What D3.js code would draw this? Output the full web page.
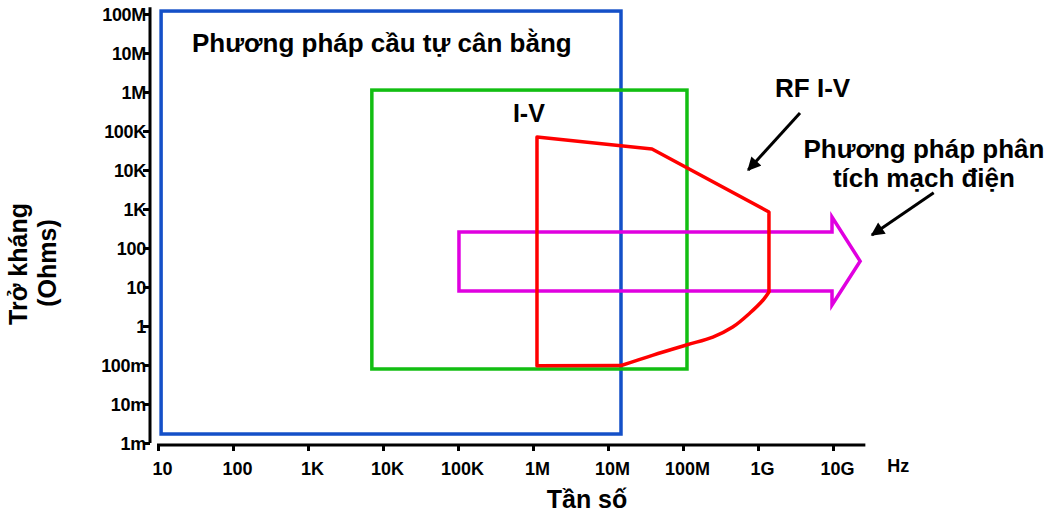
<!DOCTYPE html>
<html>
<head>
<meta charset="utf-8">
<script src="https://cdn.jsdelivr.net/npm/d3@7"></script>
<style>
  html, body { margin: 0; padding: 0; background: #fff; }
  svg { display: block; }
  text { font-family: "Liberation Sans", Arial, sans-serif; font-weight: bold; fill: #000; }
</style>
</head>
<body>
<svg id="chart" width="1049" height="515"></svg>
<script>
// ---- data ----
const freqTicks  = [1e1, 1e2, 1e3, 1e4, 1e5, 1e6, 1e7, 1e8, 1e9, 1e10];
const freqLabels = ["10", "100", "1K", "10K", "100K", "1M", "10M", "100M", "1G", "10G"];
const impTicks   = [1e-3, 1e-2, 1e-1, 1, 1e1, 1e2, 1e3, 1e4, 1e5, 1e6, 1e7, 1e8];
const impLabels  = ["1m", "10m", "100m", "1", "10", "100", "1K", "10K", "100K", "1M", "10M", "100M"];
const freqAxisExtent = [10, 2.7e10];
const impAxisExtent  = [1e-3, 1.5e8];

// auto-balancing bridge region
const bridgeFreq = [11, 1.49e7];
const bridgeImp  = [1.7e-3, 1.19e8];
// I-V region
const ivFreq = [7.1e3, 1.13e8];
const ivImp  = [0.079, 1.12e6];
// RF I-V region: straight edges and curved lower edge
const rfivEdges = [[1.5e7, 0.097], [1.13e6, 0.095], [1.13e6, 7.0e4], [3.86e7, 3.45e4], [1.4e9, 838], [1.4e9, 7.45]];
const rfivCurve = [[1.4e9, 7.45], [1.17e9, 4.64], [7.8e8, 2.15], [4.6e8, 0.94], [2.5e8, 0.52], [1.13e8, 0.33], [4.0e7, 0.18], [1.5e7, 0.097]];
// network analysis region (arrow)
const networkArrow = [[1.03e5, 257], [9.7e9, 257], [9.7e9, 623], [2.3e10, 46], [9.7e9, 3.45], [9.7e9, 7.9], [1.03e5, 7.9]];
// pointer arrows
const pointers = [
  { from: [3.63e9, 2.9e5], to: [7.4e8, 1.0e4] },
  { from: [2.2e11, 2.6e3], to: [3.3e10, 215] }
];
// labels in data coordinates
const annotations = [
  { text: "Phương pháp cầu tự cân bằng", at: [28.4, 1.06e7], anchor: "start", size: 26 },
  { text: "I-V", at: [5.4e5, 1.7e5], anchor: "start", size: 25 },
  { text: "RF I-V", at: [1.69e9, 7.4e5], anchor: "start", size: 26 },
  { text: "Phương pháp phân", at: [1.63e11, 2.03e4], anchor: "middle", size: 26 },
  { text: "tích mạch điện", at: [1.63e11, 3.66e3], anchor: "middle", size: 26 }
];

// ---- scales ----
const svg = d3.select("#chart");
const x = d3.scaleLog().domain([1e1, 1e10]).range([158, 833]);
const y = d3.scaleLog().domain([1e-3, 1e8]).range([443, 14]);

const colors = { bridge: "#1450c8", iv: "#12be12", rfiv: "#ff0000", net: "#e000e0" };
const sw = 3.5;
const tickFont = "18px";

// ---- axes ----
const yAxisX = 150;
const xAxisY = y(1e-3) + 2;

const yAxis = d3.axisLeft(y).tickValues(impTicks)
  .tickFormat((d, i) => impLabels[i]).tickSize(7).tickSizeOuter(0);
const gy = svg.append("g").attr("transform", `translate(${yAxisX},0)`).call(yAxis);
gy.select(".domain").remove();
gy.selectAll(".tick line").attr("stroke", "#000").attr("stroke-width", 3);
gy.selectAll(".tick text").attr("x", -4).attr("dy", "0.36em")
  .style("font-size", tickFont).style("font-family", "'Liberation Sans', Arial, sans-serif")
  .style("font-weight", "bold").style("letter-spacing", "-0.3px");
gy.append("line").attr("x1", 0).attr("x2", 0)
  .attr("y1", y(impAxisExtent[0])).attr("y2", y(impAxisExtent[1]))
  .attr("stroke", "#000").attr("stroke-width", 3);

const xAxis = d3.axisBottom(x).tickValues(freqTicks)
  .tickFormat((d, i) => freqLabels[i]).tickSize(6).tickSizeOuter(0);
const gx = svg.append("g").attr("transform", `translate(0,${xAxisY})`).call(xAxis);
gx.select(".domain").remove();
gx.selectAll(".tick line").attr("stroke", "#000").attr("stroke-width", 3).attr("y1", 0);
gx.selectAll(".tick text").attr("y", 17).attr("dy", "0.71em").attr("dx", 4)
  .style("font-size", tickFont).style("font-family", "'Liberation Sans', Arial, sans-serif")
  .style("font-weight", "bold");
gx.append("line").attr("y1", 0).attr("y2", 0)
  .attr("x1", x(freqAxisExtent[0]) - 1).attr("x2", x(freqAxisExtent[1]))
  .attr("stroke", "#000").attr("stroke-width", 3);

svg.append("text").attr("x", x(7.4e10)).attr("y", 472)
  .attr("text-anchor", "middle").style("font-size", tickFont).text("Hz");

svg.append("text").attr("x", 587).attr("y", 508)
  .attr("text-anchor", "middle").style("font-size", "25px").text("Tần số");

svg.append("text").attr("transform", "translate(27,264) rotate(-90)")
  .attr("text-anchor", "middle").style("font-size", "25px").text("Trở kháng");
svg.append("text").attr("transform", "translate(56,263) rotate(-90)")
  .attr("text-anchor", "middle").style("font-size", "25px").text("(Ohms)");

// ---- regions ----
function rect(fr, im, color) {
  svg.append("rect")
    .attr("x", x(fr[0])).attr("y", y(im[1]))
    .attr("width", x(fr[1]) - x(fr[0])).attr("height", y(im[0]) - y(im[1]))
    .attr("fill", "none").attr("stroke", color).attr("stroke-width", sw);
}
rect(bridgeFreq, bridgeImp, colors.bridge);
rect(ivFreq, ivImp, colors.iv);

const lineLin = d3.line().x(d => x(d[0])).y(d => y(d[1]));
svg.append("path").attr("d", lineLin(networkArrow) + "Z")
  .attr("fill", "none").attr("stroke", colors.net).attr("stroke-width", sw).attr("stroke-linejoin", "miter");

svg.append("path").attr("d", lineLin(rfivEdges))
  .attr("fill", "none").attr("stroke", colors.rfiv).attr("stroke-width", sw).attr("stroke-linejoin", "round");
const lineCurve = d3.line().x(d => x(d[0])).y(d => y(d[1])).curve(d3.curveCatmullRom);
svg.append("path").attr("d", lineCurve(rfivCurve))
  .attr("fill", "none").attr("stroke", colors.rfiv).attr("stroke-width", sw).attr("stroke-linecap", "round");

// ---- pointer arrows ----
svg.append("defs").append("marker")
  .attr("id", "ah").attr("viewBox", "0 0 10 10").attr("refX", 9).attr("refY", 5)
  .attr("markerWidth", 5).attr("markerHeight", 4.5).attr("markerUnits", "strokeWidth")
  .attr("orient", "auto")
  .append("path").attr("d", "M0,0 L10,5 L0,10 Z").attr("fill", "#000");
svg.selectAll("line.ptr").data(pointers).enter().append("line").attr("class", "ptr")
  .attr("x1", d => x(d.from[0])).attr("y1", d => y(d.from[1]))
  .attr("x2", d => x(d.to[0])).attr("y2", d => y(d.to[1]))
  .attr("stroke", "#000").attr("stroke-width", 3).attr("marker-end", "url(#ah)");

// ---- annotations ----
svg.selectAll("text.ann").data(annotations).enter().append("text").attr("class", "ann")
  .attr("x", d => x(d.at[0])).attr("y", d => y(d.at[1]))
  .attr("text-anchor", d => d.anchor).style("font-size", d => d.size + "px")
  .text(d => d.text);
</script>
</body>
</html>
